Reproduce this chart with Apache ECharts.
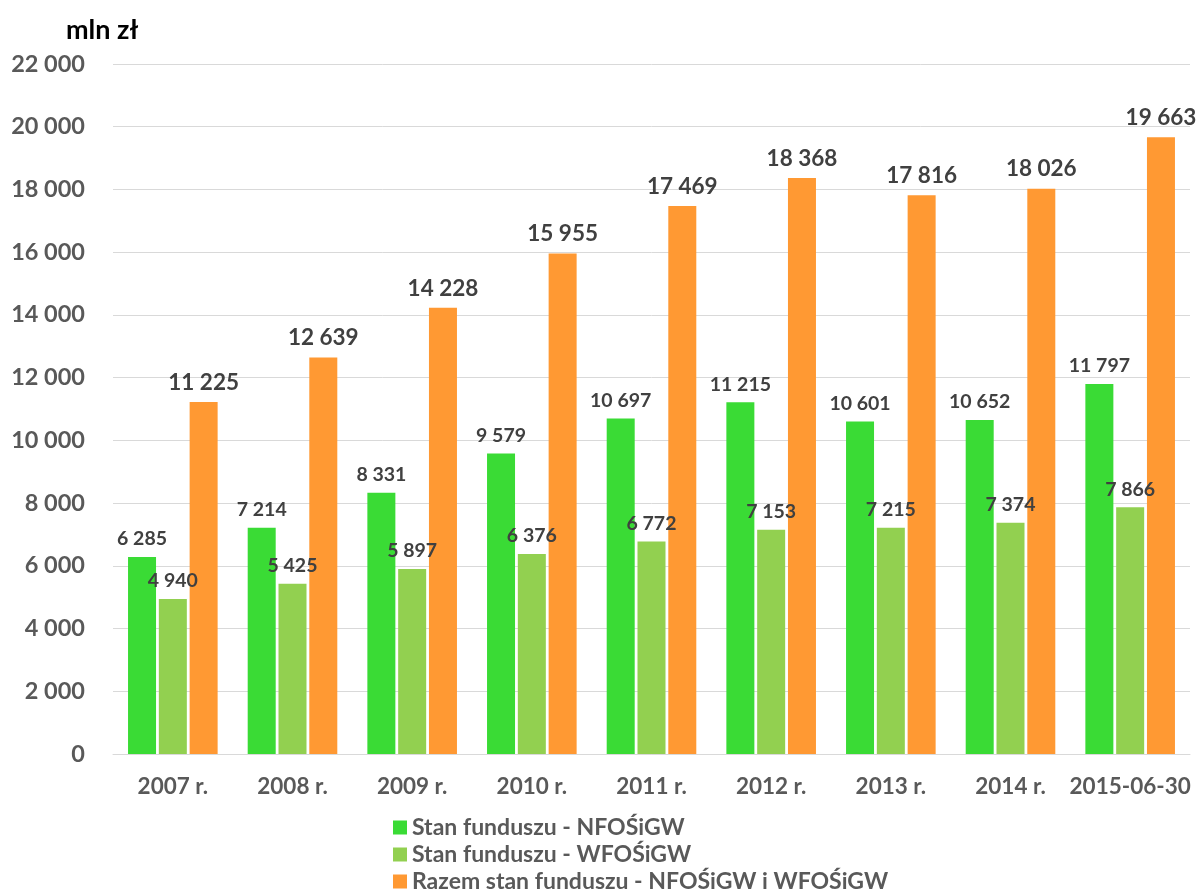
<!DOCTYPE html>
<html>
<head>
<meta charset="utf-8">
<script src="https://cdn.jsdelivr.net/npm/echarts@6/dist/echarts.min.js"></script>
<style>
  html, body { margin: 0; padding: 0; background: #fff; }
  #chart { width: 1197px; height: 891px; }
</style>
</head>
<body>
<div id="chart"></div>
<script>
// dane
const categories = ['2007 r.', '2008 r.', '2009 r.', '2010 r.', '2011 r.', '2012 r.', '2013 r.', '2014 r.', '2015-06-30']
const nfosigw = [6285, 7214, 8331, 9579, 10697, 11215, 10601, 10652, 11797]
const wfosigw = [4940, 5425, 5897, 6376, 6772, 7153, 7215, 7374, 7866]
const razem = [11225, 12639, 14228, 15955, 17469, 18368, 17816, 18026, 19663]
const seriesNames = ['Stan funduszu - NFOŚiGW', 'Stan funduszu - WFOŚiGW', 'Razem stan funduszu - NFOŚiGW i WFOŚiGW']

const FONT = 'Lato, "Open Sans", sans-serif'

// format z odstępem tysięcy
const fmt = (v) => String(v).replace(/\B(?=(\d{3})+(?!\d))/g, ' ')

const label = (size) => ({
  show: true,
  position: 'top',
  distance: 8,
  color: '#404040',
  fontFamily: FONT,
  fontWeight: 'bold',
  fontSize: size,
  formatter: (p) => fmt(p.value)
})

const chart = echarts.init(document.getElementById('chart'))
chart.setOption({
  animation: false,
  backgroundColor: '#fff',
  grid: { left: 113, right: 7, top: 64, bottom: 137, containLabel: false },
  title: {
    text: 'mln zł',
    left: 61,
    top: 12,
    textStyle: { fontFamily: FONT, fontWeight: 'bold', fontSize: 27, color: '#000' }
  },
  legend: {
    orient: 'vertical',
    left: 388,
    top: 811,
    height: 90,
    itemGap: 4,
    itemWidth: 14,
    itemHeight: 14,
    icon: 'rect',
    textStyle: { fontFamily: FONT, fontWeight: 'bold', fontSize: 23, color: '#595959' },
    data: seriesNames
  },
  xAxis: {
    type: 'category',
    data: categories,
    axisLine: { lineStyle: { color: '#d9d9d9' } },
    axisTick: { show: false },
    axisLabel: { interval: 0, margin: 21, fontFamily: FONT, fontWeight: 'bold', fontSize: 22.5, color: '#595959' }
  },
  yAxis: {
    type: 'value',
    min: 0,
    max: 22000,
    interval: 2000,
    axisLine: { show: false },
    axisTick: { show: false },
    splitLine: { lineStyle: { color: '#d9d9d9' } },
    axisLabel: { margin: 28, fontFamily: FONT, fontWeight: 'bold', fontSize: 23.5, color: '#595959', formatter: fmt }
  },
  series: [
    { name: seriesNames[0], type: 'bar', data: nfosigw, barWidth: 28, barGap: '10%', itemStyle: { color: '#3ADB35' }, label: label(19.5) },
    { name: seriesNames[1], type: 'bar', data: wfosigw, barWidth: 28, barGap: '10%', itemStyle: { color: '#92D050' }, label: label(19.5) },
    { name: seriesNames[2], type: 'bar', data: razem, barWidth: 28, barGap: '10%', itemStyle: { color: '#FF9933' }, label: label(22.5) }
  ]
})
</script>
</body>
</html>
